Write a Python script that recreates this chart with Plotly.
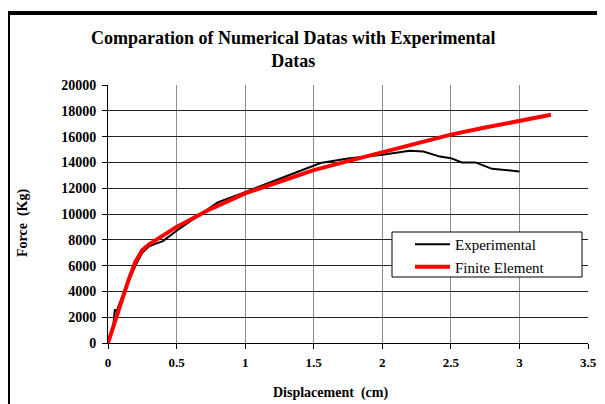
import plotly.graph_objects as go

exp_x = [0, 0.02, 0.04, 0.05, 0.06, 0.1, 0.15, 0.2, 0.25, 0.3, 0.35, 0.4, 0.5, 0.65, 0.8, 1.0, 1.2, 1.4, 1.55, 1.75, 2.0, 2.2, 2.3, 2.42, 2.5, 2.58, 2.68, 2.8, 3.0]
exp_y = [0, 800, 1500, 2600, 2400, 3500, 4800, 6000, 7000, 7500, 7700, 7900, 8700, 9800, 10900, 11700, 12500, 13300, 13950, 14300, 14600, 14900, 14850, 14450, 14330, 14000, 14000, 13500, 13300]

fe_x = [0, 0.05, 0.1, 0.15, 0.2, 0.25, 0.3, 0.4, 0.5, 0.75, 1.0, 1.25, 1.5, 1.75, 2.0, 2.25, 2.5, 2.75, 3.0, 3.23]
fe_y = [0, 1700, 3300, 4900, 6300, 7200, 7650, 8300, 9000, 10400, 11600, 12500, 13400, 14100, 14800, 15500, 16150, 16700, 17200, 17700]

x_ticks = [0, 0.5, 1, 1.5, 2, 2.5, 3, 3.5]
x_tick_labels = ["0", "0.5", "1", "1.5", "2", "2.5", "3", "3.5"]
y_ticks = [0, 2000, 4000, 6000, 8000, 10000, 12000, 14000, 16000, 18000, 20000]

SERIF = "Liberation Serif"
OFF = 8  # page body margin offset
W, H = 605 - OFF, 404 - OFF
# plot area in reference pixels
PL, PR, PT, PB = 108, 588, 85, 343
L, T = PL - OFF, PT - OFF
R, B = W - (PR - OFF), H - (PB - OFF)
pw, ph = PR - PL, PB - PT

def px(x):
    return (x - PL) / pw

def py(y):
    return (PB - y) / ph

fig = go.Figure()
fig.add_trace(go.Scatter(x=exp_x, y=exp_y, mode="lines", name="Experimental",
                         line=dict(color="black", width=2)))
fig.add_trace(go.Scatter(x=fe_x, y=fe_y, mode="lines", name="Finite Element",
                         line=dict(color="#ff0000", width=4)))

fig.update_layout(
    width=W, height=H,
    margin=dict(l=L, r=R, t=T, b=B, autoexpand=False),
    paper_bgcolor="white", plot_bgcolor="white",
    showlegend=True,
    legend=dict(x=px(410), y=py(228), xanchor="left", yanchor="top",
                bgcolor="rgba(0,0,0,0)", borderwidth=0,
                font=dict(family=SERIF, size=15, color="black"),
                tracegroupgap=0, itemwidth=35),
    xaxis=dict(range=[0, 3.5], tickvals=x_ticks, ticktext=x_tick_labels,
               showgrid=True, gridcolor="#8c8c8c", gridwidth=1,
               showline=True, linecolor="black", linewidth=1,
               ticks="outside", ticklen=5, tickcolor="black",
               ticklabelstandoff=2,
               tickfont=dict(family=SERIF, size=13, color="black", weight="bold"),
               zeroline=False),
    yaxis=dict(range=[0, 20000], tickvals=y_ticks, tickformat="d",
               showgrid=True, gridcolor="#222222", gridwidth=1,
               showline=True, linecolor="black", linewidth=1,
               ticks="outside", ticklen=5, tickcolor="black",
               ticklabelstandoff=3,
               tickfont=dict(family=SERIF, size=14, color="black", weight="bold"),
               zeroline=False),
    annotations=[
        dict(text="Comparation of Numerical Datas with Experimental<br>Datas",
             x=px(293), y=py(50), xref="paper", yref="paper",
             xanchor="center", yanchor="middle", showarrow=False,
             font=dict(family=SERIF, size=18, color="black", weight="bold")),
        dict(text="Displacement  (cm)", x=px(330), y=py(393), xref="paper", yref="paper",
             xanchor="center", yanchor="middle", showarrow=False,
             font=dict(family=SERIF, size=14, color="black", weight="bold")),
        dict(text="Force  (Kg)", x=px(23), y=py(223), xref="paper", yref="paper",
             xanchor="center", yanchor="middle", showarrow=False, textangle=-90,
             font=dict(family=SERIF, size=14, color="black", weight="bold")),
    ],
    shapes=[
        dict(type="rect", xref="paper", yref="paper", x0=px(392), x1=px(582),
             y0=py(277), y1=py(232), fillcolor="white",
             line=dict(color="black", width=1), layer="above"),
        dict(type="line", xref="paper", yref="paper", x0=px(8), x1=px(8),
             y0=py(11), y1=py(420), line=dict(color="black", width=4)),
        dict(type="line", xref="paper", yref="paper", x0=px(6), x1=px(620),
             y0=py(13), y1=py(13), line=dict(color="black", width=4)),
    ],
)

fig.write_html("out.html")
